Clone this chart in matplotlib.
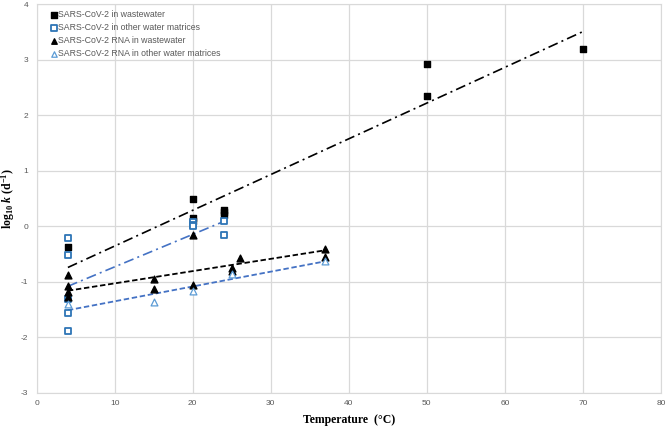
import numpy as np
import matplotlib.pyplot as plt

# SARS-CoV-2 in wastewater (filled squares)
ww_x = [4, 20, 20, 20, 24, 24, 24, 50, 50, 70]
ww_y = [-0.37, 0.50, 0.15, 0.10, 0.30, 0.25, 0.20, 2.93, 2.35, 3.19]
# SARS-CoV-2 in other water matrices (open squares)
ow_x = [4, 4, 4, 4, 4, 20, 20, 20, 24, 24]
ow_y = [-0.21, -0.52, -1.30, -1.57, -1.88, 0.08, 0.03, 0.0, 0.10, -0.15]
# SARS-CoV-2 RNA in wastewater (filled triangles)
rww_x = [4, 4, 4, 4, 15, 15, 20, 20, 25, 25, 26, 37, 37]
rww_y = [-0.87, -1.08, -1.18, -1.27, -0.95, -1.12, -0.16, -1.06, -0.75, -0.80, -0.57, -0.40, -0.55]
# SARS-CoV-2 RNA in other water matrices (open triangles)
row_x = [4, 15, 20, 25, 37]
row_y = [-1.40, -1.37, -1.17, -0.85, -0.62]

# trend lines: (x start, x end, slope, intercept)
trend_ww = (4, 70, 0.0644, -0.998)
trend_ow = (4, 24, 0.0585, -1.314)
trend_rww = (4, 37, 0.0221, -1.248)
trend_row = (4, 37, 0.0267, -1.617)

grey = "#595959"
blue = "#2e75b6"
lightblue = "#5b9bd5"
dblue = "#4472c4"

plt.rcParams["axes.unicode_minus"] = False
plt.rcParams["mathtext.fontset"] = "custom"
plt.rcParams["mathtext.rm"] = "Liberation Serif:bold"
plt.rcParams["mathtext.it"] = "Liberation Serif:bold:italic"
plt.rcParams["mathtext.bf"] = "Liberation Serif:bold"

fig = plt.figure(figsize=(6.67, 4.37), dpi=100)
ax = fig.add_axes([0.055, 0.101, 0.936, 0.889])

ax.set_xlim(0, 80)
ax.set_ylim(-3, 4)
ax.set_xticks(range(0, 81, 10))
ax.set_yticks(range(-3, 5))
ax.grid(True, color="#d9d9d9", linewidth=0.9)
ax.set_axisbelow(True)
for s in ax.spines.values():
    s.set_color("#d9d9d9")
ax.tick_params(length=0, labelsize=6, labelcolor=grey)
ax.tick_params(axis="x", pad=5)
ax.tick_params(axis="y", pad=6)
for lab in ax.get_xticklabels() + ax.get_yticklabels():
    lab.set_family("Liberation Sans")


def trend(p, **kw):
    xs = np.array([p[0], p[1]])
    ax.plot(xs, p[2] * xs + p[3], **kw)


trend(trend_ww, color="black", linewidth=1.2, dashes=(6, 2.5, 1.2, 2.5))
trend(trend_ow, color=dblue, linewidth=1.2, dashes=(6, 2.5, 1.2, 2.5))
trend(trend_rww, color="black", linewidth=1.3, dashes=(3, 1.5))
trend(trend_row, color=dblue, linewidth=1.3, dashes=(3, 1.5))

ax.scatter(ww_x, ww_y, marker="s", s=22, color="black", zorder=3,
           label="SARS-CoV-2 in wastewater")
ax.scatter(ow_x, ow_y, marker="s", s=22, facecolor="white", edgecolor=blue,
           linewidth=1.3, zorder=3, label="SARS-CoV-2 in other water matrices")
ax.scatter(rww_x, rww_y, marker="^", s=24, color="black", zorder=3,
           label="SARS-CoV-2 RNA in wastewater")
ax.scatter(row_x, row_y, marker="^", s=24, facecolor="white", edgecolor=lightblue,
           linewidth=0.9, zorder=3, label="SARS-CoV-2 RNA in other water matrices")

leg = ax.legend(loc="upper left", bbox_to_anchor=(0.022, 0.985), frameon=False,
                prop={"family": "Liberation Sans", "size": 6.3},
                handlelength=0.8, handletextpad=0.1, labelspacing=0.45,
                markerscale=0.8, borderaxespad=0, borderpad=0)
for t in leg.get_texts():
    t.set_color(grey)

ax.set_xlabel("Temperature  (°C)", family="Liberation Serif", fontweight="bold",
              fontsize=8.5, labelpad=5)
ax.set_ylabel(r"$\mathrm{log}_{10}\ \mathit{k}\ \mathrm{(d^{-1})}$", fontsize=8.5)
ax.yaxis.set_label_coords(-0.031, 0.5)

plt.savefig("out.png", dpi=100)
